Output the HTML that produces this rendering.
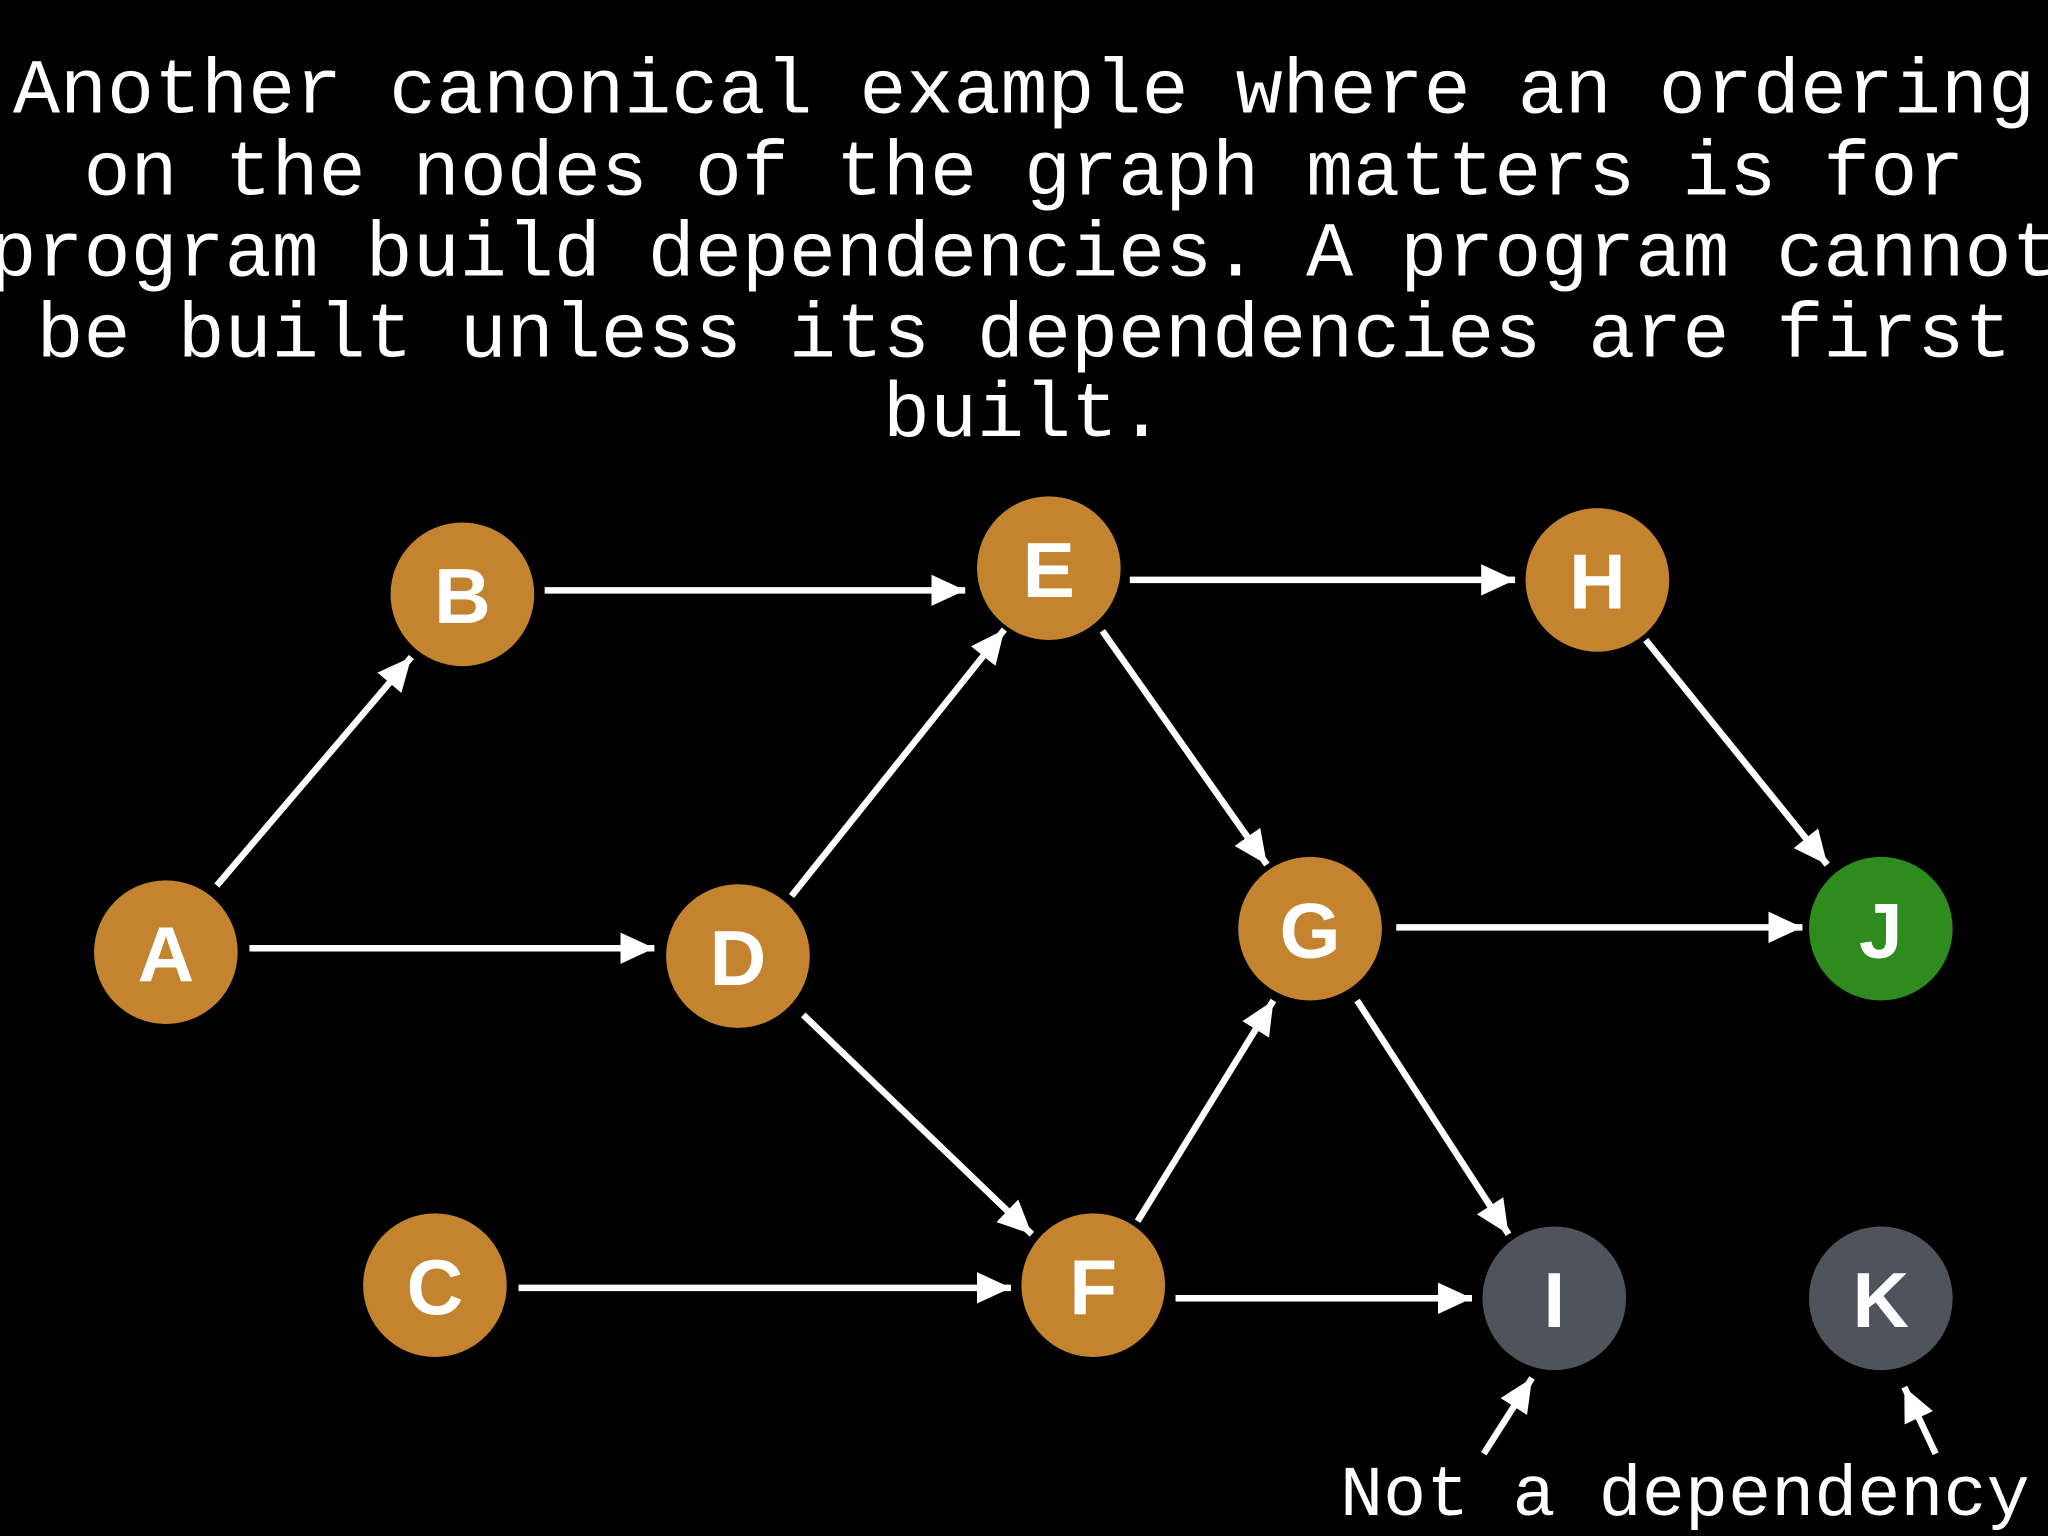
<!DOCTYPE html>
<html><head><meta charset="utf-8"><style>
html,body{margin:0;padding:0;background:#000;width:2048px;height:1536px;overflow:hidden}
svg{display:block}
</style></head><body>
<svg width="2048" height="1536" viewBox="0 0 1568 1176" xmlns="http://www.w3.org/2000/svg">
<defs>
<marker id="ah" markerUnits="userSpaceOnUse" markerWidth="28" markerHeight="24" refX="26" refY="12" orient="auto">
<path d="M0,0 L26,12 L0,24 Z" fill="#fff"/>
</marker>
</defs>
<rect width="1568" height="1176" fill="#000"/>
<g font-family="'Liberation Mono', monospace" font-size="60" fill="#fff" text-anchor="middle">
<text x="784" y="86">Another canonical example where an ordering</text>
<text x="784" y="149">on the nodes of the graph matters is for</text>
<text x="784" y="211">program build dependencies. A program cannot</text>
<text x="784" y="273">be built unless its dependencies are first</text>
<text x="784" y="334">built.</text>
<text x="1290" y="1160" font-size="55">Not a dependency</text>
</g>
<g stroke="#fff" stroke-width="5" marker-end="url(#ah)" fill="none">
<line x1="166" y1="678" x2="315" y2="503"/>
<line x1="191" y1="726" x2="501" y2="726"/>
<line x1="417" y1="452" x2="739" y2="452"/>
<line x1="606" y1="686" x2="769" y2="482"/>
<line x1="615" y1="777" x2="790" y2="945"/>
<line x1="865" y1="444" x2="1160" y2="444"/>
<line x1="844" y1="483" x2="970" y2="662"/>
<line x1="397" y1="986" x2="774" y2="986"/>
<line x1="871" y1="935" x2="975" y2="766"/>
<line x1="900" y1="994" x2="1127" y2="994"/>
<line x1="1069" y1="710" x2="1380" y2="710"/>
<line x1="1039" y1="766" x2="1155" y2="945"/>
<line x1="1260" y1="490" x2="1399" y2="662"/>
<line x1="1136" y1="1113" x2="1173" y2="1055"/>
<line x1="1482" y1="1113" x2="1458" y2="1062"/>
</g>
<g>
<circle cx="127" cy="729" r="55" fill="#c4842f"/>
<circle cx="354" cy="455" r="55" fill="#c4842f"/>
<circle cx="333" cy="984" r="55" fill="#c4842f"/>
<circle cx="565" cy="732" r="55" fill="#c4842f"/>
<circle cx="803" cy="435" r="55" fill="#c4842f"/>
<circle cx="837" cy="984" r="55" fill="#c4842f"/>
<circle cx="1003" cy="711" r="55" fill="#c4842f"/>
<circle cx="1223" cy="444" r="55" fill="#c4842f"/>
<circle cx="1190" cy="994" r="55" fill="#4f545c"/>
<circle cx="1440" cy="711" r="55" fill="#2e8b1d"/>
<circle cx="1440" cy="994" r="55" fill="#4f545c"/>
</g>
<g font-family="'Liberation Sans', sans-serif" font-weight="bold" font-size="60" fill="#fff" text-anchor="middle">
<text x="127" y="751">A</text>
<text x="354" y="477">B</text>
<text x="333" y="1006">C</text>
<text x="565" y="754">D</text>
<text x="803" y="457">E</text>
<text x="837" y="1006">F</text>
<text x="1003" y="733">G</text>
<text x="1223" y="466">H</text>
<text x="1190" y="1016">I</text>
<text x="1440" y="733">J</text>
<text x="1440" y="1016">K</text>
</g>
</svg>
</body></html>
